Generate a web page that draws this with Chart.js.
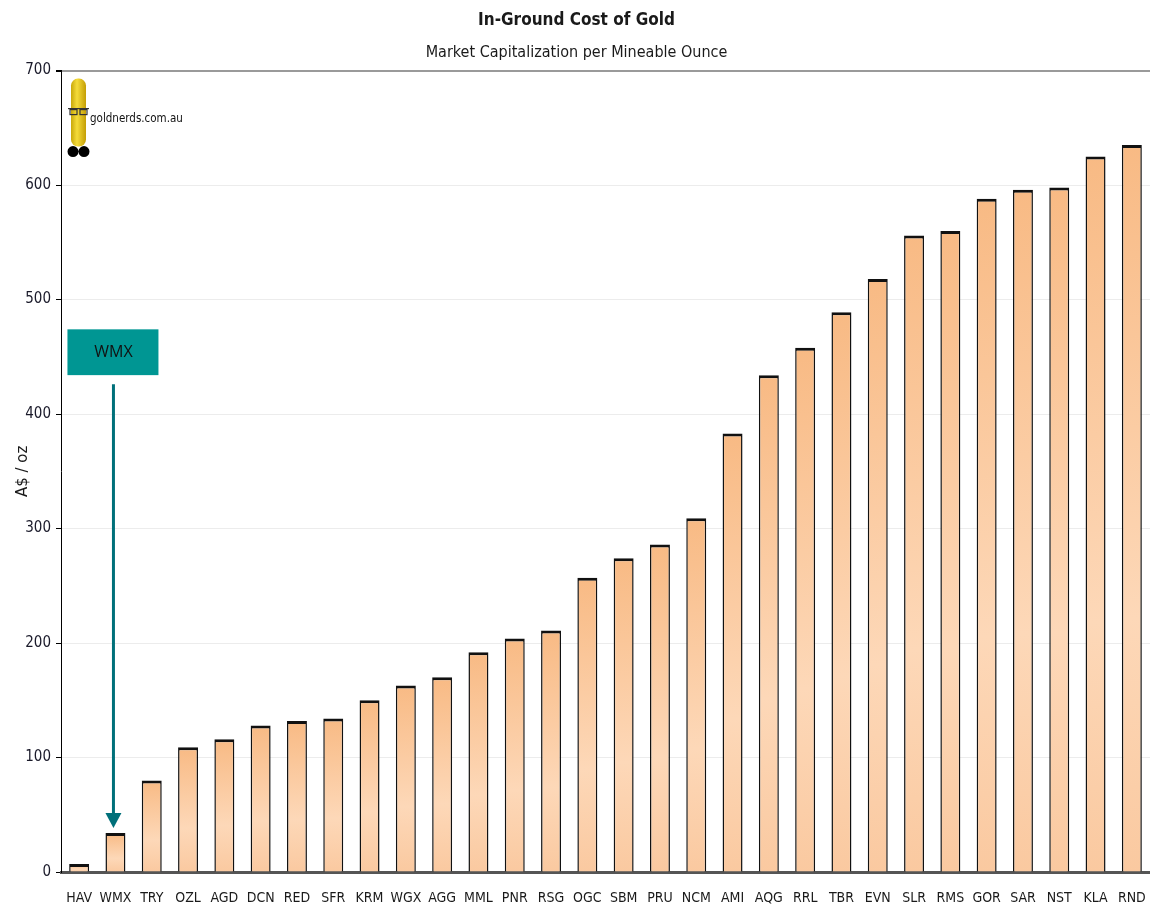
<!DOCTYPE html>
<html>
<head>
<meta charset="utf-8">
<script src="https://cdn.jsdelivr.net/npm/chart.js@4.4.1/dist/chart.umd.min.js"></script>
<style>
  html, body { margin: 0; padding: 0; background: #fff; }
  #wrap { width: 1150px; height: 915px; }
</style>
</head>
<body>
<div id="wrap"><canvas id="goldChart"></canvas></div>
<script>
const tickers = ["HAV", "WMX", "TRY", "OZL", "AGD", "DCN", "RED", "SFR", "KRM", "WGX",
  "AGG", "MML", "PNR", "RSG", "OGC", "SBM", "PRU", "NCM", "AMI", "AQG",
  "RRL", "TBR", "EVN", "SLR", "RMS", "GOR", "SAR", "NST", "KLA", "RND"];
const costPerOz = [7, 34, 80, 109, 116, 128, 132, 134, 150, 163,
  170, 192, 204, 211, 257, 274, 286, 309, 383, 434,
  458, 489, 518, 556, 560, 588, 596, 598, 625, 635];
const yTicks = [0, 100, 200, 300, 400, 500, 600, 700];

const highlight = "WMX";
const narrow = '"DejaVu Sans Condensed", "Liberation Sans Narrow", sans-serif';

// per-bar vertical gradient, orange at top, lighter lower down
function barFill(ctx) {
  const chart = ctx.chart;
  const y = chart.scales.y;
  if (!chart.chartArea || ctx.raw === undefined) return "#fbc795";
  const top = y.getPixelForValue(ctx.raw);
  const base = y.getPixelForValue(0);
  if (!isFinite(top) || base - top < 1) return "#fbc795";
  const g = chart.ctx.createLinearGradient(0, top, 0, base);
  g.addColorStop(0, "#f8ba84");
  g.addColorStop(0.65, "#fdd8b8");
  g.addColorStop(1, "#fac9a0");
  return g;
}

const extras = {
  id: "extras",
  afterDatasetsDraw(chart) {
    const ctx = chart.ctx;
    const x = chart.scales.x, y = chart.scales.y;
    const i = tickers.indexOf(highlight);
    const cx = x.getPixelForValue(i) - 2;

    // label box
    const boxTop = y.getPixelForValue(474), boxBot = y.getPixelForValue(434);
    ctx.save();
    ctx.fillStyle = "#009693";
    ctx.fillRect(cx - 46, boxTop, 91, boxBot - boxTop);
    ctx.fillStyle = "#111";
    ctx.font = '16px "Open Sans", sans-serif';
    ctx.textAlign = "center";
    ctx.textBaseline = "middle";
    ctx.fillText(highlight, cx, (boxTop + boxBot) / 2);

    // arrow down to the bar
    const aStart = y.getPixelForValue(426);
    const tip = y.getPixelForValue(costPerOz[i]) - 5;
    ctx.strokeStyle = "#00707a";
    ctx.fillStyle = "#00707a";
    ctx.lineWidth = 3;
    ctx.beginPath();
    ctx.moveTo(cx, aStart);
    ctx.lineTo(cx, tip - 12);
    ctx.stroke();
    ctx.beginPath();
    ctx.moveTo(cx - 8, tip - 15);
    ctx.lineTo(cx + 8, tip - 15);
    ctx.lineTo(cx, tip);
    ctx.closePath();
    ctx.fill();

    // goldnerds logo
    const lx = chart.chartArea.left + 10, ly = chart.chartArea.top + 8;
    const body = ctx.createLinearGradient(lx, 0, lx + 15, 0);
    body.addColorStop(0, "#c9a80a");
    body.addColorStop(0.4, "#f5dc3a");
    body.addColorStop(1, "#c49e05");
    ctx.fillStyle = body;
    ctx.beginPath();
    ctx.roundRect(lx, ly, 15, 68, 7);
    ctx.fill();
    ctx.strokeStyle = "#333";
    ctx.lineWidth = 1.2;
    ctx.beginPath();
    ctx.moveTo(lx - 3, ly + 30);
    ctx.lineTo(lx + 18, ly + 30);
    ctx.stroke();
    ctx.strokeRect(lx - 1, ly + 31, 7, 5);
    ctx.strokeRect(lx + 9, ly + 31, 7, 5);
    ctx.fillStyle = "#000";
    ctx.beginPath();
    ctx.arc(lx + 2, ly + 73, 5.5, 0, Math.PI * 2);
    ctx.arc(lx + 13, ly + 73, 5.5, 0, Math.PI * 2);
    ctx.fill();
    ctx.fillStyle = "#111";
    ctx.font = "11.5px " + narrow;
    ctx.textAlign = "left";
    ctx.textBaseline = "alphabetic";
    ctx.fillText("goldnerds.com.au", lx + 19, ly + 43);
    ctx.restore();
  }
};

new Chart(document.getElementById("goldChart"), {
  type: "bar",
  data: {
    labels: tickers,
    datasets: [{
      label: "A$ / oz",
      data: costPerOz,
      backgroundColor: barFill,
      borderColor: "#111",
      borderWidth: { top: 3, left: 1.5, right: 1.5, bottom: 0 },
      borderSkipped: false,
      barPercentage: 0.55,
      categoryPercentage: 1
    }]
  },
  options: {
    responsive: true,
    maintainAspectRatio: false,
    animation: false,
    layout: { padding: { top: 3, right: -3, left: 0, bottom: 0 } },
    plugins: {
      legend: { display: false },
      tooltip: { enabled: false },
      title: {
        display: true,
        text: "In-Ground Cost of Gold",
        color: "#1a1a1a",
        font: { family: narrow, size: 17, weight: "bold" },
        padding: { top: 7, bottom: 0 }
      },
      subtitle: {
        display: true,
        text: "Market Capitalization per Mineable Ounce",
        color: "#1a1a1a",
        font: { family: narrow, size: 16 },
        padding: { top: 13, bottom: 8 }
      }
    },
    scales: {
      x: {
        offset: true,
        grid: { display: false, drawTicks: true, tickLength: 18 },
        border: { display: true, color: "#555", width: 3 },
        ticks: {
          color: "#1a1a1a",
          font: { family: narrow, size: 14 },
          padding: 0,
          maxRotation: 0,
          autoSkip: false
        },
        afterFit(scale) { scale.height = 43; }
      },
      y: {
        min: 0,
        max: 700,
        afterBuildTicks(scale) { scale.ticks = yTicks.map(v => ({ value: v })); },
        grid: {
          color: c => c.tick && c.tick.value === 700 ? "#9a9a9a" : "#ececec",
          lineWidth: c => c.tick && c.tick.value === 700 ? 2 : 1,
          tickColor: "#000",
          tickLength: 5
        },
        border: { display: true, color: "#000", width: 1 },
        ticks: {
          color: "#1a1a2a",
          font: { family: narrow, size: 15 },
          padding: 5
        },
        title: {
          display: true,
          text: "A$ / oz",
          color: "#1a1a1a",
          font: { family: '"DejaVu Sans", sans-serif', size: 15 },
          padding: { top: 14, bottom: 0 }
        },
        afterFit(scale) { scale.width = 61; }
      }
    }
  },
  plugins: [extras]
});
</script>
</body>
</html>
